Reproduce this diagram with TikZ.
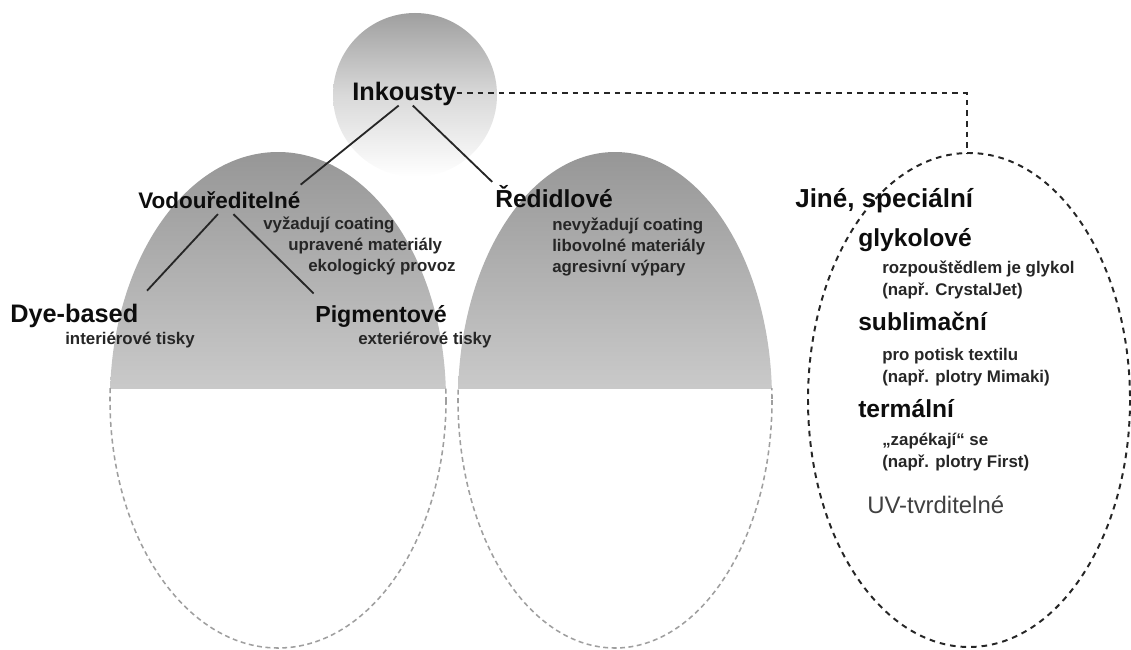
\documentclass[tikz,border=0pt]{standalone}
\usepackage{fontspec}
\setmainfont{Liberation Sans}
\newcommand{\headfont}{\bfseries\fontsize{17.5}{20}\selectfont}
\newcommand{\notefont}{\bfseries\fontsize{12}{14}\selectfont}

\begin{document}
\begin{tikzpicture}[x=0.025cm, y=-0.025cm,
  head/.style={font=\headfont, text=black!95, inner sep=0pt, anchor=base west},
  note/.style={font=\notefont, text=black!85, inner sep=0pt, anchor=base west},
  link/.style={black!85, line width=1.3pt},
  halfline/.style={gray!75, line width=1.1pt, dash pattern=on 3.5pt off 2.5pt},
  othline/.style={black!85, line width=1.4pt, dash pattern=on 4pt off 3.5pt}]
\useasboundingbox (0,0) rectangle (1131,650);
% top circle
\shade[top color=gray!75, bottom color=white, middle color=gray!30] (415,95) circle [radius=82];
% gray half ellipses
\foreach \cx/\rx in {278/168, 615/157} {
  \begin{scope}
    \clip (\cx,400) ellipse [x radius=\rx, y radius=248];
    \shade[top color=gray!82, bottom color=gray!42] (\cx-\rx,152) rectangle (\cx+\rx,388);
  \end{scope}
  \begin{scope}
    \clip (\cx-\rx-5,388) rectangle (\cx+\rx+5,660);
    \draw[halfline] (\cx,400) ellipse [x radius=\rx, y radius=248];
  \end{scope}
}
% other inks
\draw[othline] (969,400) ellipse [x radius=161, y radius=247];
\coordinate (othtop) at (967,153);

\node[head, font=\bfseries\fontsize{18}{20}\selectfont] (ink) at (352,100) {Inkousty};
\node[head, font=\bfseries\fontsize{16}{20}\selectfont] (vodo) at (138,208) {Vodouředitelné};
\node[head] (redi) at (495,207) {Ředidlové};
\node[head, font=\bfseries\fontsize{18}{20}\selectfont] (dye) at (10,322) {Dye-based};
\node[head, font=\bfseries\fontsize{16.5}{20}\selectfont] (pigm) at (315,322) {Pigmentové};
\node[head, font=\bfseries\fontsize{18.5}{20}\selectfont] (jine) at (795,207) {Jiné, speciální};
\node[head] (glyk) at (858,246) {glykolové};
\node[head] (subl) at (858,330) {sublimační};
\node[head] (term) at (858,417) {termální};
\node[head, font=\fontsize{17}{20}\selectfont, text=black!75] (uv) at (867,513) {UV-tvrditelné};

\foreach \x/\y/\t [count=\i] in {263/229/vyžadují coating, 288/250/upravené materiály,
    308/271/ekologický provoz, 552/230/nevyžadují coating, 552/251/libovolné materiály,
    552/272/agresivní výpary, 65/344/interiérové tisky, 358/344/exteriérové tisky,
    882/273/rozpouštědlem je glykol, 882/295/{(např. CrystalJet)},
    882/360/pro potisk textilu, 882/382/{(např. plotry Mimaki)},
    882/445/„zapékají“ se, 882/467/{(např. plotry First)}}
  \node[note] (n\i) at (\x,\y) {\t};

\draw[link] ([xshift=-4pt]ink.south) -- (redi.north west -| vodo.north east);
\draw[link] ([xshift=6pt]ink.south) -- ([shift={(-2pt,2pt)}]redi.north west);
\draw[link] ([shift={(-1pt,-4pt)}]vodo.south) -- ([shift={(6pt,9pt)}]dye.north east);
\draw[link] ([shift={(10pt,-4pt)}]vodo.south) -- ([shift={(-1pt,8pt)}]pigm.north west);
\draw[othline] (ink.east) -| (othtop);
\end{tikzpicture}
\end{document}
